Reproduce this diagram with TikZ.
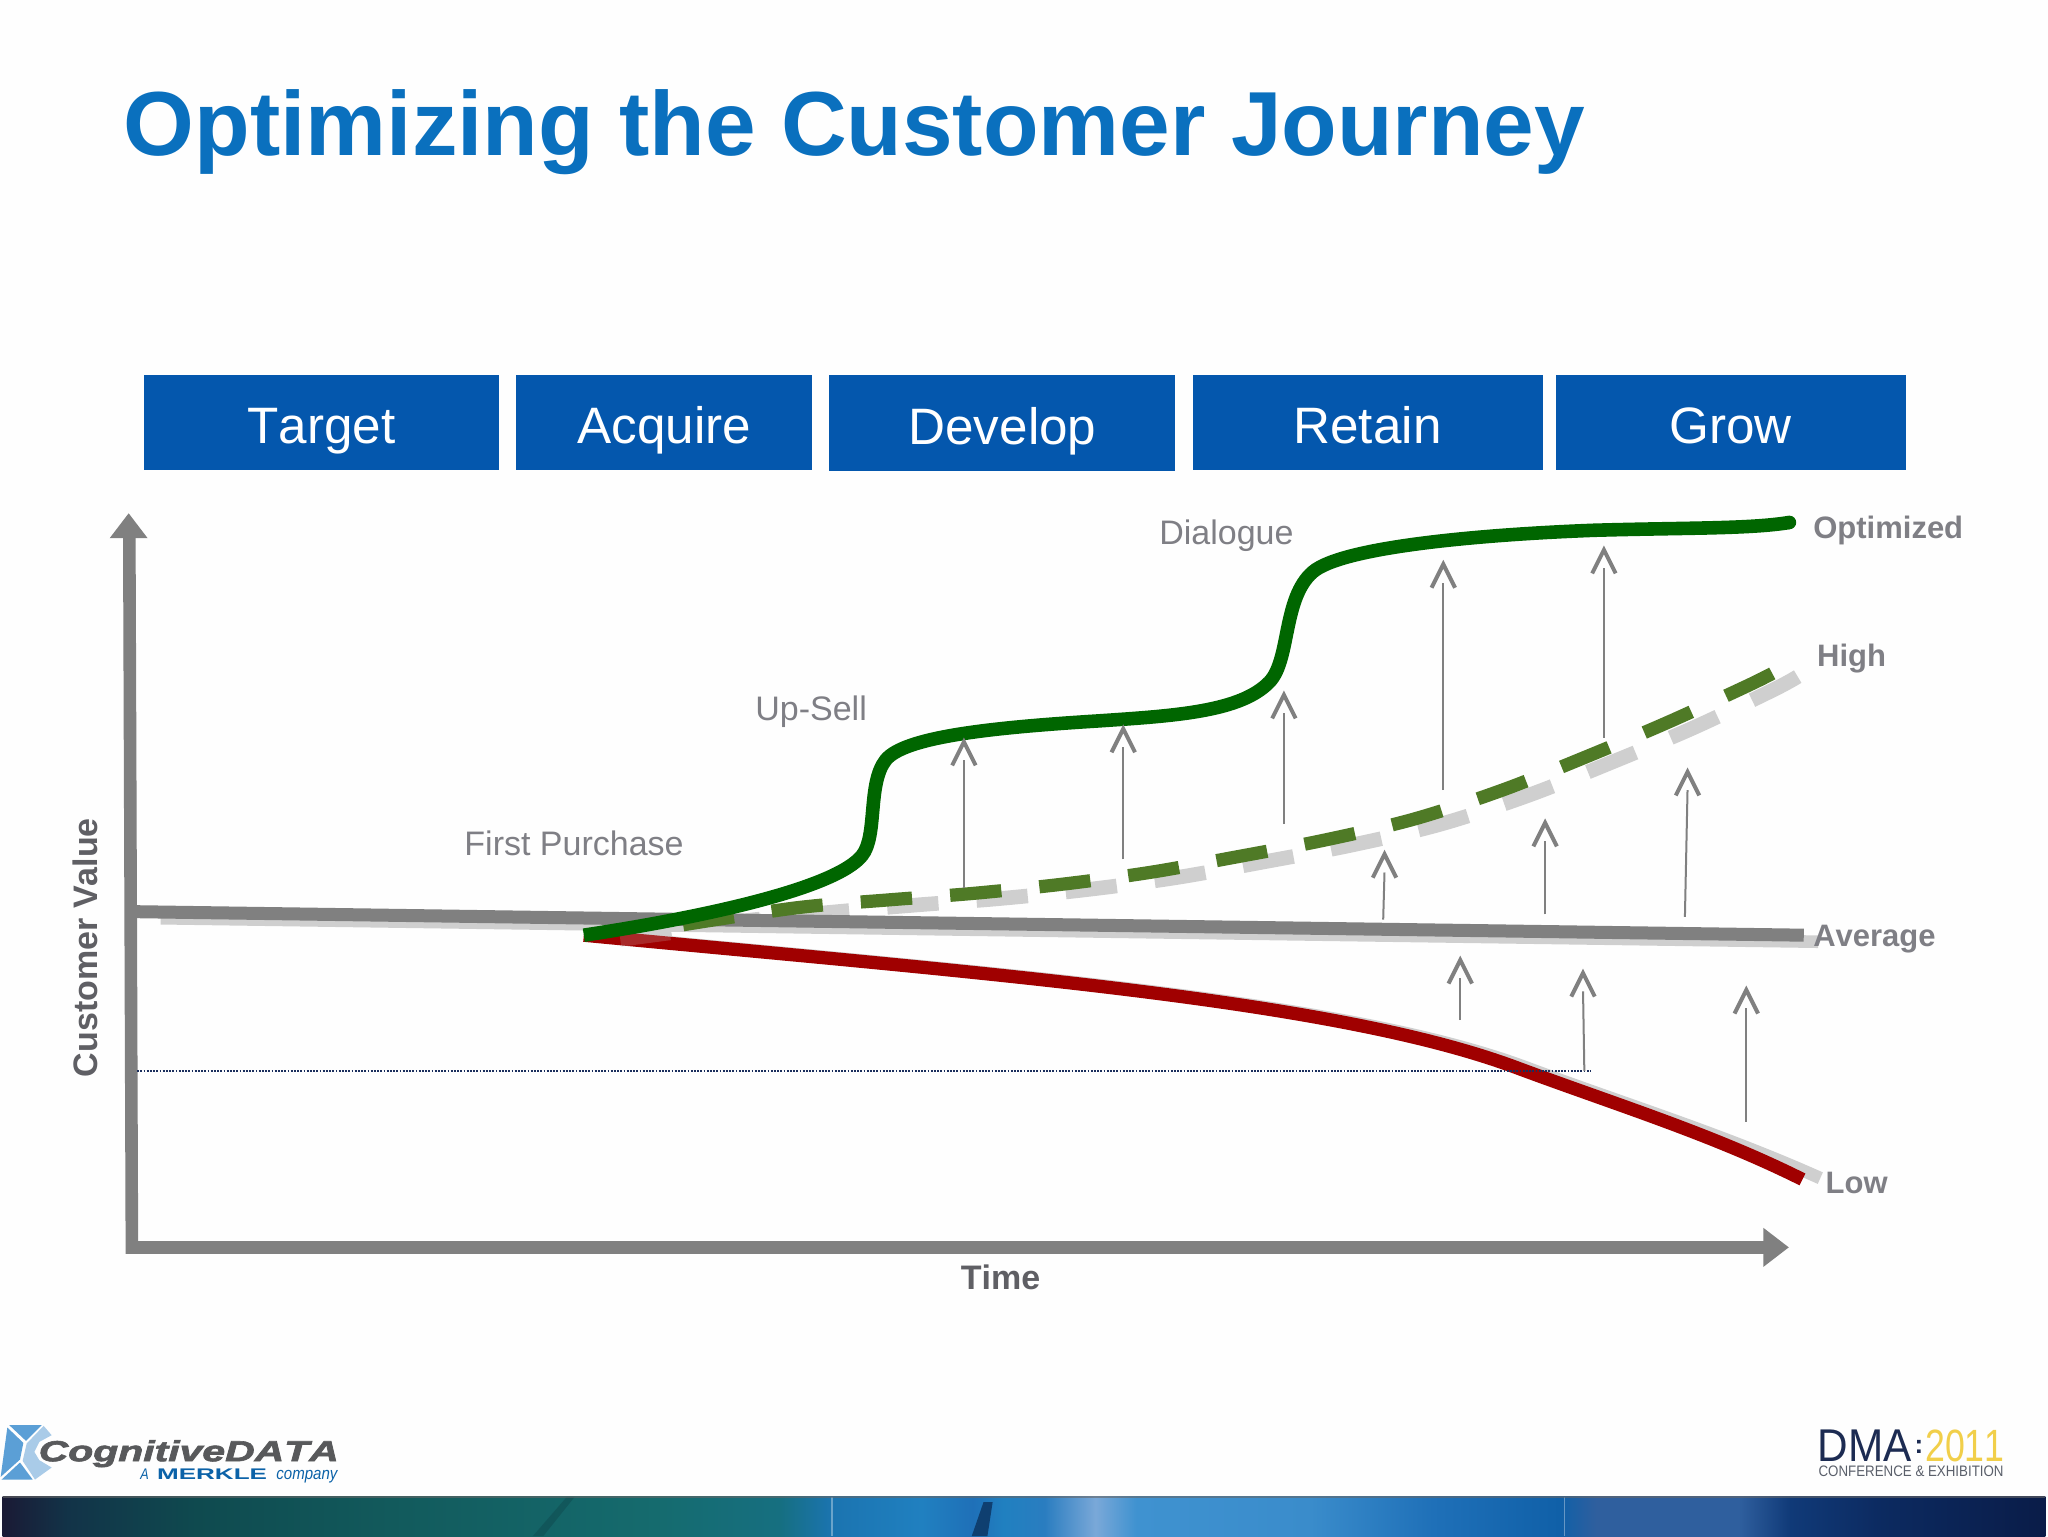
\documentclass[tikz,border=0pt]{standalone}
\usepackage{fontspec}
\setmainfont[Kerning=Off]{Liberation Sans}
\usetikzlibrary{calc}
\definecolor{titleblue}{HTML}{0A70BE}
\definecolor{stageblue}{HTML}{0457AD}
\definecolor{axisgray}{HTML}{808080}
\definecolor{shadowgray}{HTML}{CFCFCF}
\definecolor{labelgray}{HTML}{7F7F85}
\definecolor{axislabel}{HTML}{5F5F64}
\definecolor{solidgreen}{HTML}{006600}
\definecolor{dashgreen}{HTML}{4F7A26}
\definecolor{lowred}{HTML}{A00000}
\definecolor{dotnavy}{HTML}{1B2F5E}
\definecolor{logogray}{HTML}{58595B}
\definecolor{merkleblue}{HTML}{0B62A8}
\definecolor{icondark}{HTML}{5B9FD6}
\definecolor{iconlight}{HTML}{A9CBE8}
\definecolor{dmanavy}{HTML}{1C2B52}
\definecolor{dmagold}{HTML}{F1CF4A}
\definecolor{dmagray}{HTML}{5A5F6A}
\definecolor{ba}{HTML}{1A1A35}\definecolor{bb}{HTML}{123348}\definecolor{bc}{HTML}{0F4A4F}
\definecolor{bd}{HTML}{125A5C}\definecolor{be}{HTML}{156B6E}\definecolor{bf}{HTML}{166F80}
\definecolor{bg}{HTML}{1B74B0}\definecolor{bh}{HTML}{2080C0}\definecolor{bi}{HTML}{0F3F70}
\definecolor{bj}{HTML}{2A7DC0}\definecolor{bk}{HTML}{7AA8D8}\definecolor{bl}{HTML}{3F92D0}
\definecolor{bm}{HTML}{3A8CCB}\definecolor{bn}{HTML}{1F70B8}\definecolor{bo}{HTML}{1060A8}
\definecolor{bp}{HTML}{2F5F9E}\definecolor{bq}{HTML}{103A78}\definecolor{br}{HTML}{0C2A60}
\definecolor{bs}{HTML}{0A1C48}
\pgfdeclarehorizontalshading{bannershade}{100bp}{
 color(0bp)=(ba); color(25bp)=(ba); color(26.6bp)=(bb); color(29.75bp)=(bc); color(34.5bp)=(bd);
 color(41bp)=(be); color(44bp)=(bf); color(45.3bp)=(bg); color(47.5bp)=(bh);
 color(48.75bp)=(bn); color(49.5bp)=(bh); color(50.5bp)=(bj); color(51.75bp)=(bk);
 color(52.75bp)=(bl); color(57bp)=(bm); color(60bp)=(bn); color(63.1bp)=(bo);
 color(64bp)=(bp); color(67.5bp)=(bp); color(68.75bp)=(bq); color(71bp)=(br); color(75bp)=(bs); color(100bp)=(bs)}
\tikzset{
 x=0.65306pt,y=-0.65306pt,
 titletext/.style={font=\fontsize{45.5}{50}\selectfont\bfseries,text=titleblue,inner sep=0pt,anchor=base west},
 stagebox/.style={fill=stageblue,text=white,font=\fontsize{25.6}{30}\selectfont,inner sep=0pt,minimum height=47.7pt,text height=21pt,text depth=0pt},
 axisline/.style={draw=axisgray,line width=6.3pt},
 axishead/.style={fill=axisgray},
 milestone/.style={font=\fontsize{17}{20}\selectfont,text=labelgray,inner sep=0pt},
 levellabel/.style={font=\fontsize{15.5}{18}\selectfont\bfseries,text=labelgray,inner sep=0pt,anchor=base west},
 axislabeltext/.style={font=\fontsize{17}{20}\selectfont\bfseries,text=axislabel,inner sep=0pt},
 shaft/.style={draw=axisgray,line width=1pt},
 barb/.style={draw=axisgray,line width=2pt,miter limit=10},
 logoword/.style={inner sep=0pt,anchor=base west},
}
\newcommand{\valuearrow}[6]{%
 \coordinate (#1t) at (#2,#3); \coordinate (#1h) at (#4,#5);
 \draw[shaft] (#1t) -- ($(#1h)+(0,14)$);
 \draw[barb] ($(#1h)+(-9,18)$) -- (#1h) -- ($(#1h)+(9,18)$);}
\begin{document}
\begin{tikzpicture}
\useasboundingbox (0,0) rectangle (1568,1176);
\fill[white!99.5!black] (0,0) rectangle (1568,1176);
% title
\node[titletext] (title) at (94.5,119) {Optimizing the Customer Journey};
% stages
\node[stagebox,minimum width=177.6pt] (target) at (246,323.5) {Target};
\node[stagebox,minimum width=148.2pt] (acquire) at (508.5,323.5) {Acquire};
\node[stagebox,minimum width=173pt] (develop) at (767.5,324) {Develop};
\node[stagebox,minimum width=175pt] (retain) at (1047,323.5) {Retain};
\node[stagebox,minimum width=175pt] (grow) at (1325,323.5) {Grow};
% axes
\draw[axisline] (101,960) -- (99,410);
\fill[axishead] (98.5,393) -- (113,412) -- (84,412) -- cycle;
\draw[axisline] (97,955) -- (1352,955);
\fill[axishead] (1369.5,955) -- (1350,940) -- (1350,970) -- cycle;
% shadows
\draw[shadowgray,line width=7.3pt,dash pattern=on 25.7pt off 19.1pt]
 plot[smooth,tension=.55] coordinates {(475,719) (543,708) (630,699) (700,693) (765,688) (833,681) (900,672) (967,660) (1035,647) (1103,631) (1170,609) (1233,584) (1297,557) (1358,528) (1378,517)};
\draw[shadowgray,line width=6.3pt] (123,703) -- (1392,721);
\draw[shadowgray,line width=6.3pt,xshift=5pt] (447,716) .. controls (750,745) and (1020,765) .. (1160,817) .. controls (1235,845) and (1310,868) .. (1386,902);
% low curve
\draw[lowred,line width=6.6pt] (447,716) .. controls (750,745) and (1020,765) .. (1160,817) .. controls (1235,845) and (1310,868) .. (1380,903);
\draw[shadowgray,opacity=.2,line width=6.3pt] (475,720) -- (513,715);
% average
\draw[axisgray,line width=6.5pt] (104,698) -- (1381,716);
% high dashed
\draw[dashgreen,line width=6.6pt,dash pattern=on 25.7pt off 19.1pt]
 plot[smooth,tension=.55] coordinates {(523,708) (610,695) (680,689) (745,684) (813,677) (880,668) (947,656) (1015,643) (1083,627) (1150,605) (1213,580) (1277,553) (1338,525) (1358,515)};
% optimized curve
\draw[solidgreen,line width=6.8pt] (447,716) .. controls (540,702) and (640,680) .. (660,655) .. controls (672,640) and (664,600) .. (678,582) .. controls (692,564) and (760,557) .. (840,552) .. controls (900,548) and (950,545) .. (972,522) .. controls (988,505) and (982,458) .. (1005,438) .. controls (1028,418) and (1140,409) .. (1220,406) .. controls (1290,404) and (1340,405) .. (1370,400);
\fill[solidgreen] (1370,400) circle[radius=3.4pt];
% dotted
\coordinate (dotl) at (105,820); \coordinate (dotr) at (1218,820);
\draw[dotnavy,line width=.9pt,dash pattern=on .9pt off .7pt] (dotl) -- (dotr);
% arrows
\valuearrow{a1}{738}{680}{738}{568}{}
\valuearrow{a2}{860}{658}{860}{558}{}
\valuearrow{a3}{983}{631}{983}{532}{}
\valuearrow{a4}{1105}{605}{1105}{432}{}
\valuearrow{a5}{1228}{565}{1228}{421}{}
\valuearrow{a6}{1059}{704}{1060}{654}{}
\valuearrow{a7}{1183}{700}{1183}{630}{}
\valuearrow{a8}{1290}{702}{1292}{591}{}
\valuearrow{a9}{1118}{781}{1118}{735}{}
\valuearrow{a10}{1213}{820}{1212}{745}{}
\valuearrow{a11}{1337}{859}{1337}{758}{}
% labels
\node[milestone] (dialogue) at (939,410) {Dialogue};
\node[milestone] (upsell) at (621,545) {Up-Sell};
\node[milestone] (first) at (439.5,646) {First Purchase};
\node[levellabel] (optimized) at (1388,412) {Optimized};
\node[levellabel] (high) at (1391,510) {High};
\node[levellabel] (average) at (1388,725) {Average};
\node[levellabel] (low) at (1397.5,914) {Low};
\node[axislabeltext,rotate=90] (cv) at (65,725.5) {Customer Value};
\node[axislabeltext] (time) at (766,978) {Time};
% banner
\shade[shading=bannershade] (2,1146) rectangle (1566,1176);
\fill[bi] (744,1176) -- (756,1176) -- (760,1150) -- (753,1150) -- cycle;
\fill[bc,opacity=.5] (408,1176) -- (416,1176) -- (440,1146) -- (434,1146) -- cycle;
\draw[white,opacity=.35,line width=.6pt] (637,1146) -- (637,1176);
\draw[white,opacity=.35,line width=.6pt] (1198,1146) -- (1198,1176);
\draw[black!60,opacity=.6,line width=.8pt] (2,1146) -- (1566,1146);
% CognitiveDATA logo
\begin{scope}[shift={(0,1056.7)},x=0.16667pt,y=-0.16667pt]
\fill[icondark] (28,135) -- (125,135) -- (78,182) -- cycle;
\fill[icondark] (22,142) -- (70,188) -- (60,238) -- (2,290) -- cycle;
\fill[icondark] (60,247) -- (98,298) -- (5,298) -- cycle;
\fill[iconlight] (131,137) -- (155,165) -- (118,185) -- (103,215) -- (118,240) -- (155,262) -- (105,298) -- (68,242) -- (80,190) -- cycle;
\node[logoword,text=logogray] (cogn) at (115,243) {\resizebox{150pt}{10.5pt}{\fontspec[FakeBold=2,Kerning=Off]{Liberation Sans Bold Italic}CognitiveDATA}};
\node[logoword,text=merkleblue] (amerkle) at (420,297) {\resizebox{4.2pt}{5.3pt}{\itshape A}};
\node[logoword,text=merkleblue] (merkle) at (470,297) {\resizebox{55pt}{5.3pt}{\bfseries MERKLE}};
\node[logoword,text=merkleblue] (company) at (828,297) {\resizebox{30.5pt}{4.6pt}{\itshape company}};
\end{scope}
% DMA logo
\begin{scope}[shift={(1185.3,1056.7)},x=0.16667pt,y=-0.16667pt]
\node[logoword,text=dmanavy] (dma) at (808,243) {\resizebox{47pt}{15.8pt}{DMA}};
\node[logoword,text=dmanavy,font=\fontsize{13}{14}\selectfont\bfseries] (colon) at (1098,220) {:};
\node[logoword,text=dmagold] (year) at (1130,243) {\resizebox{39.7pt}{15.8pt}{2011}};
\node[logoword,text=dmagray] (conf) at (810,290) {\resizebox{92.5pt}{5.3pt}{CONFERENCE \& EXHIBITION}};
\end{scope}
\end{tikzpicture}
\end{document}
